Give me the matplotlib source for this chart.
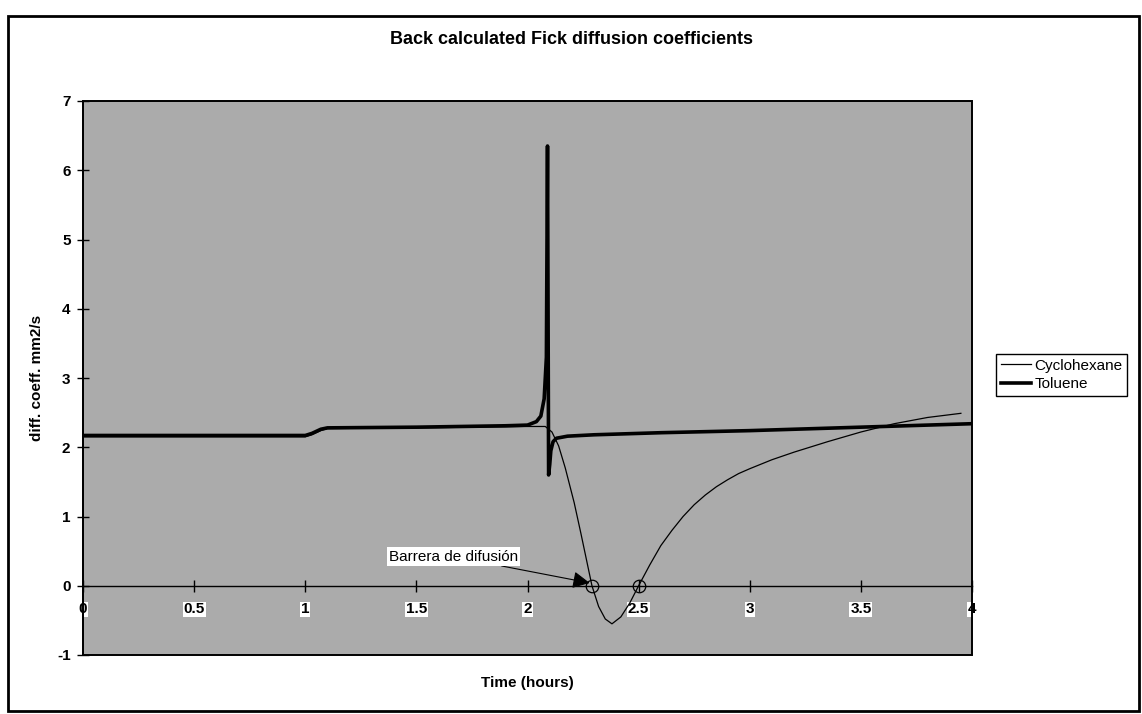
import matplotlib
matplotlib.use("Agg")
import matplotlib.pyplot as plt
from matplotlib.patches import Rectangle

plt.rcParams['font.family'] = ['Liberation Sans', 'DejaVu Sans']
plt.rcParams['axes.unicode_minus'] = False

# Toluene (thick line)
tol_x = [0, 1.0, 1.03, 1.07, 1.1, 1.5, 1.9, 2.0, 2.04, 2.06, 2.075, 2.085,
         2.09, 2.095, 2.1, 2.105, 2.115, 2.13, 2.18, 2.3, 2.6, 3.0, 3.5, 4.0]
tol_y = [2.17, 2.17, 2.2, 2.26, 2.28, 2.29, 2.31, 2.32, 2.37, 2.45, 2.7, 3.3,
         6.35, 1.6, 1.75, 1.95, 2.08, 2.13, 2.16, 2.18, 2.21, 2.24, 2.29, 2.34]

# Cyclohexane (thin line)
cyc_x = [0, 1.0, 1.03, 1.07, 1.1, 1.5, 2.0, 2.08, 2.11, 2.14, 2.17, 2.21, 2.24,
         2.29, 2.32, 2.35, 2.38, 2.42, 2.46, 2.5, 2.55, 2.6, 2.65, 2.7, 2.75,
         2.8, 2.85, 2.9, 2.95, 3.0, 3.1, 3.2, 3.35, 3.5, 3.65, 3.8, 3.95]
cyc_y = [2.15, 2.15, 2.18, 2.24, 2.27, 2.28, 2.3, 2.3, 2.22, 2.02, 1.7, 1.2, 0.76,
         0.0, -0.3, -0.48, -0.55, -0.45, -0.25, 0.0, 0.3, 0.58, 0.8, 1.0, 1.17,
         1.31, 1.43, 1.53, 1.62, 1.69, 1.82, 1.93, 2.08, 2.22, 2.34, 2.43, 2.49]

zero_x = [2.29, 2.50]
zero_y = [0, 0]

x_ticks = [0, 0.5, 1, 1.5, 2, 2.5, 3, 3.5, 4]
x_labels = ['0', '0.5', '1', '1.5', '2', '2.5', '3', '3.5', '4']
y_ticks = [-1, 0, 1, 2, 3, 4, 5, 6, 7]

fig = plt.figure(figsize=(11.42, 7.14), dpi=100)
ax = fig.add_axes([83/1142, 1-655/714, (972-83)/1142, (655-101)/714])
ax.set_facecolor('#ababab')

ax.plot(cyc_x, cyc_y, color='black', lw=0.9, label='Cyclohexane')
ax.plot(tol_x, tol_y, color='black', lw=2.6, label='Toluene')
ax.plot(zero_x, zero_y, 'o', mfc='none', mec='black', ms=9, mew=0.9)

ax.annotate('Barrera de difusión', xy=(2.28, 0.04), xytext=(1.667, 0.42),
            fontsize=11, ha='center', va='center',
            bbox=dict(boxstyle='square,pad=0.15', fc='white', ec='none'),
            arrowprops=dict(arrowstyle='-|>', color='black', lw=0.8,
                            mutation_scale=26, shrinkA=0, shrinkB=0))

ax.set_xlim(0, 4)
ax.set_ylim(-1, 7)
ax.set_xticks(x_ticks)
ax.set_xticklabels(x_labels)
ax.set_yticks(y_ticks)

ax.spines['bottom'].set_position(('data', 0))
ax.spines['bottom'].set_linewidth(1.0)
ax.spines['left'].set_linewidth(1.2)
ax.spines['top'].set_visible(False)
ax.spines['right'].set_visible(False)
ax.add_patch(Rectangle((0, 0), 1, 1, transform=ax.transAxes, fill=False,
                       ec='black', lw=1.4, clip_on=False, zorder=5))

ax.tick_params(axis='x', direction='inout', length=8, width=1, pad=8,
               labelsize=11)
ax.tick_params(axis='y', direction='inout', length=8, width=1, pad=5,
               labelsize=11)
for t in ax.get_xticklabels():
    t.set_fontweight('bold')
    t.set_bbox(dict(fc='white', ec='none', pad=0.5))
for t in ax.get_yticklabels():
    t.set_fontweight('bold')

fig.text(0.5, 1-39/714, 'Back calculated Fick diffusion coefficients',
         ha='center', va='center', fontsize=13, fontweight='bold')
fig.text(527/1142, 1-683/714, 'Time (hours)', ha='center', va='center',
         fontsize=11, fontweight='bold')
fig.text(37/1142, 1-378/714, 'diff. coeff. mm2/s', ha='center', va='center',
         rotation=90, fontsize=11, fontweight='bold')

fig.legend(loc='upper left', bbox_to_anchor=(996/1142, 1-354/714),
           fontsize=11, frameon=True, fancybox=False, edgecolor='black',
           framealpha=1, handlelength=2.0, handletextpad=0.2,
           borderpad=0.3, labelspacing=0.3, borderaxespad=0)

fig.add_artist(Rectangle((8/1142, 3/714), 1131/1142, 695/714,
                         transform=fig.transFigure, fill=False, ec='black',
                         lw=2))

fig.savefig('out.png', dpi=100)
